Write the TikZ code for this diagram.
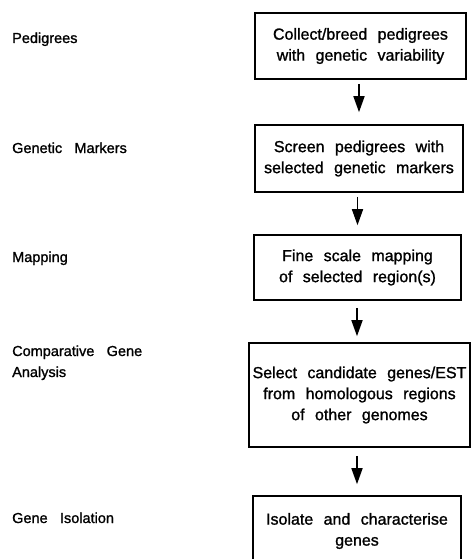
\documentclass[tikz,border=0pt]{standalone}
\usepackage{fontspec}
\setmainfont{Liberation Sans}
\newfontfamily\medsans{Liberation Sans}[FakeBold=1.2]
\usetikzlibrary{arrows.meta}
\newcommand\boxfont{\medsans\fontsize{16}{21}\selectfont\spaceskip=0.65em\relax}
\newcommand\labelfont{\medsans\fontsize{14.5}{21}\selectfont\spaceskip=0.85em\relax}
\begin{document}
\begin{tikzpicture}[x=1pt,y=-1pt,
  stepbox/.style={font=\boxfont, inner sep=0pt, draw=black, line width=1.6pt, align=center},
  lbl/.style={font=\labelfont, inner sep=0pt, anchor=base west, align=left},
  arr/.style={line width=1.6pt, -{Triangle[length=16pt,width=11pt]}}]
\useasboundingbox (0,0) rectangle (471,559);
\clip (0,0) rectangle (471,559);
\fill[white] (0,0) rectangle (471,559);
\node[stepbox, minimum width=211pt, minimum height=66pt] (b1) at (360.5,46) {Collect/breed pedigrees\\with genetic variability};
\node[stepbox, minimum width=208pt, minimum height=67pt] (b2) at (359,158.5) {Screen pedigrees with\\selected genetic markers};
\node[stepbox, minimum width=207pt, minimum height=65pt] (b3) at (357.5,267.5) {Fine scale mapping\\of selected region(s)};
\node[stepbox, minimum width=221pt, minimum height=104pt] (b4) at (359.5,395) {Select candidate genes/EST\\from homologous regions\\of other genomes};
\node[stepbox, minimum width=208pt, minimum height=70pt] (b5) at (357,531) {Isolate and characterise\\genes};
\draw[arr] ([xshift=-1.5pt,yshift=-4pt]b1.south) -- ([xshift=-1.5pt,yshift=12pt]b1.south |- b2.north);
\draw[arr] ([xshift=-1.5pt,yshift=-4pt]b2.south) -- ([xshift=-1.5pt,yshift=9pt]b2.south |- b3.north);
\draw[arr] ([xshift=-0.5pt,yshift=-7pt]b3.south) -- ([xshift=-0.5pt,yshift=6pt]b3.south |- b4.north);
\draw[arr] ([xshift=-2.5pt,yshift=-8pt]b4.south) -- ([xshift=-2.5pt,yshift=11pt]b4.south |- b5.north);
\node[lbl] (l1) at (12,43) {Pedigrees};
\node[lbl] (l2) at (12,153) {Genetic Markers};
\node[lbl] (l3) at (12,262) {Mapping};
\node[lbl] (l4) at (12,377) {Comparative Gene\\Analysis};
\node[lbl] (l5) at (12,523) {Gene Isolation};
\end{tikzpicture}
\end{document}
